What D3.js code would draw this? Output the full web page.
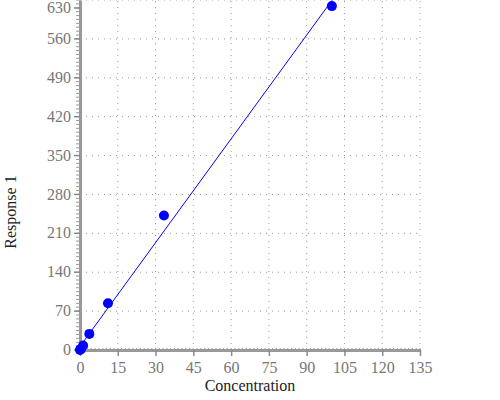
<!DOCTYPE html>
<html>
<head>
<meta charset="utf-8">
<script src="https://d3js.org/d3.v7.min.js"></script>
<style>
  body { margin: 0; background: #fff; }
  svg text { font-family: "Liberation Serif", "Times New Roman", serif !important; }
</style>
</head>
<body>
<div id="chart"></div>
<script>
// data (dilution series)
var concentration = [0, 0.137, 0.412, 1.235, 3.704, 11.11, 33.33, 100];
var response = [0, 1, 2, 8, 29, 84, 242, 619];
var xTicks = [0, 15, 30, 45, 60, 75, 90, 105, 120, 135];
var yTicks = [0, 70, 140, 210, 280, 350, 420, 490, 560, 630];

var width = 500,
    height = 400;

var svg = d3.select("#chart").append("svg")
    .attr("width", width)
    .attr("height", height);

var x = d3.scaleLinear().domain([0, 135]).range([80, 420]);
var y = d3.scaleLinear().domain([0, 630]).range([350, 0]);

// grid
svg.append("g").selectAll("line")
    .data(xTicks.slice(1))
    .enter().append("line")
    .attr("x1", function(d) { return x(d); })
    .attr("x2", function(d) { return x(d); })
    .attr("y1", y(0))
    .attr("y2", y(630))
    .attr("stroke", "#999")
    .attr("stroke-dasharray", "1,5");

svg.append("g").selectAll("line")
    .data(yTicks.slice(1))
    .enter().append("line")
    .attr("x1", x(0))
    .attr("x2", x(135))
    .attr("y1", function(d) { return y(d); })
    .attr("y2", function(d) { return y(d); })
    .attr("stroke", "#999")
    .attr("stroke-dasharray", "1,5");

// minor ticks
var xMinor = d3.range(0, 135.01, 1.5);
var yMinor = d3.range(0, 630.01, 7);

svg.append("g").selectAll("line")
    .data(xMinor)
    .enter().append("line")
    .attr("x1", function(d) { return x(d); })
    .attr("x2", function(d) { return x(d); })
    .attr("y1", y(0) - 2)
    .attr("y2", y(0) + 2)
    .attr("stroke", "#999");

svg.append("g").selectAll("line")
    .data(yMinor)
    .enter().append("line")
    .attr("x1", x(0) - 4)
    .attr("x2", x(0))
    .attr("y1", function(d) { return y(d); })
    .attr("y2", function(d) { return y(d); })
    .attr("stroke", "#999");

// axes
var xAxis = svg.append("g")
    .attr("transform", "translate(0," + y(0) + ")")
    .call(d3.axisBottom(x).tickValues(xTicks).tickSize(6).tickSizeOuter(0));

var yAxis = svg.append("g")
    .attr("transform", "translate(" + x(0) + ",0)")
    .call(d3.axisLeft(y).tickValues(yTicks).tickSize(6).tickSizeOuter(0));

// keep the top label inside the picture
yAxis.selectAll(".tick")
    .attr("transform", function(d) { return "translate(0," + Math.max(y(d), 8) + ")"; });

[xAxis, yAxis].forEach(function(a) {
    a.attr("font-family", "Liberation Serif, serif").attr("font-size", 16);
    a.select(".domain").attr("stroke", "#999").attr("stroke-width", 3);
    a.selectAll(".tick line").attr("stroke", "#888").attr("stroke-width", 1.5);
    a.selectAll(".tick text").attr("fill", "#777");
});
xAxis.selectAll(".tick text").attr("dy", "0.85em");

// axis titles
svg.append("text")
    .attr("x", 250)
    .attr("y", 391)
    .attr("text-anchor", "middle")
    .attr("font-size", 16)
    .attr("fill", "#222")
    .text("Concentration");

svg.append("text")
    .attr("transform", "translate(16,212) rotate(-90)")
    .attr("text-anchor", "middle")
    .attr("font-size", 16)
    .attr("fill", "#222")
    .text("Response 1");

// least squares fit line
var mx = d3.mean(concentration), my = d3.mean(response);
var sxy = d3.sum(concentration, function(c, i) { return (c - mx) * (response[i] - my); });
var sxx = d3.sum(concentration, function(c) { return (c - mx) * (c - mx); });
var slope = sxy / sxx, icpt = my - slope * mx;
var xExt = d3.extent(concentration);

svg.append("line")
    .attr("x1", x(xExt[0]))
    .attr("y1", y(icpt + slope * xExt[0]))
    .attr("x2", x(xExt[1]))
    .attr("y2", y(icpt + slope * xExt[1]))
    .attr("stroke", "blue")
    .attr("stroke-width", 1);

// points
svg.append("g").selectAll("circle")
    .data(concentration)
    .enter().append("circle")
    .attr("cx", function(d) { return x(d); })
    .attr("cy", function(d, i) { return y(response[i]); })
    .attr("r", 5)
    .attr("fill", "blue");
</script>
</body>
</html>
